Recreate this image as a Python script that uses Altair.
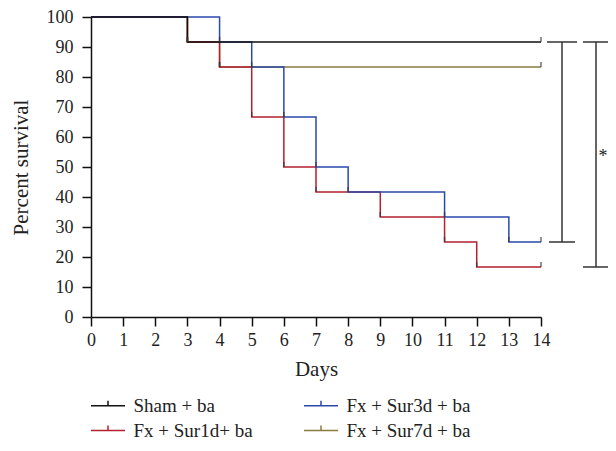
import altair as alt
import pandas as pd

# ---- data ----
series_names = ["Sham + ba", "Fx + Sur1d+ ba", "Fx + Sur3d + ba", "Fx + Sur7d + ba"]
series_colors = ["#111111", "#b3202f", "#2a4aa8", "#8c7b3e"]

sham_days = [0, 3, 14]
sham_surv = [100, 91.67, 91.67]
sur1d_days = [0, 3, 4, 5, 6, 7, 9, 11, 12, 14]
sur1d_surv = [100, 91.67, 83.33, 66.67, 50, 41.67, 33.33, 25, 16.67, 16.67]
sur3d_days = [0, 4, 5, 6, 7, 8, 11, 13, 14]
sur3d_surv = [100, 91.67, 83.33, 66.67, 50, 41.67, 33.33, 25, 25]
sur7d_days = [0, 3, 4, 14]
sur7d_surv = [100, 91.67, 83.33, 83.33]

comp_top = [91.67, 91.67]
comp_bottom = [25, 16.67]
comp_label = ["", "*"]

x_ticks = list(range(0, 15))
y_ticks = list(range(0, 101, 10))

FONT = "Liberation Serif"

rows = []
for name, days, surv in [
    (series_names[0], sham_days, sham_surv),
    (series_names[1], sur1d_days, sur1d_surv),
    (series_names[2], sur3d_days, sur3d_surv),
    (series_names[3], sur7d_days, sur7d_surv),
]:
    for i, (d, s) in enumerate(zip(days, surv)):
        rows.append({"series": name, "day": d, "surv": s, "idx": i})
df = pd.DataFrame(rows)

comps = pd.DataFrame({"top": comp_top, "bottom": comp_bottom, "label": comp_label})

xscale = alt.Scale(domain=[0, 14], nice=False)
yscale = alt.Scale(domain=[0, 100], nice=False)

color = alt.Color(
    "series:N",
    scale=alt.Scale(domain=series_names, range=series_colors),
    legend=alt.Legend(
        title=None,
        orient="none",
        legendX=7.5,
        legendY=379,
        columns=2,
        symbolType="M-2,0H2M0,0V-0.6",
        symbolSize=289,
        symbolStrokeWidth=1.5,
        symbolFillColor="transparent",
        labelFont=FONT,
        labelFontSize=19,
        labelColor="#222222",
        labelOffset=16,
        columnPadding=47,
        rowPadding=5,
    ),
)

x_axis = alt.Axis(
    values=x_ticks,
    tickCount=15,
    title="Days",
    titleY=58,
    titleBaseline="alphabetic",
    format="d",
    labelPadding=5,
    labelOverlap=False,
    labelFlush=False,
)
y_axis = alt.Axis(
    values=y_ticks,
    tickCount=11,
    title="Percent survival",
    titleX=-70,
    titleY=150,
    titleAngle=-90,
    titleBaseline="middle",
    titleAlign="center",
    labelPadding=9,
    labelOverlap=False,
    labelFlush=False,
)


def xv(field):
    return alt.X(field, type="quantitative", scale=xscale, axis=x_axis)


def yv(field):
    return alt.Y(field, type="quantitative", scale=yscale, axis=y_axis)


base = alt.Chart(df).encode(x=xv("day"), y=yv("surv"), color=color)

draw_order = [series_names[3], series_names[1], series_names[2], series_names[0]]
lines = [
    base.transform_filter(alt.datum.series == n).mark_line(
        interpolate="step-after", strokeWidth=1.5
    )
    for n in draw_order
]

ticks = (
    alt.Chart(df)
    .transform_filter(alt.datum.idx > 0)
    .mark_tick(orient="vertical", size=5, thickness=1.5, yOffset=-2.5, color="#333333")
    .encode(x=xv("day"), y=yv("surv"))
)

cb = alt.Chart(comps)
rule_style = dict(color="#333333", strokeWidth=1.5)

br1 = cb.transform_filter(alt.datum.label == "")
br2 = cb.transform_filter(alt.datum.label == "*")

bracket_layers = [
    br1.mark_rule(**rule_style).encode(x=alt.value(471), y=yv("top"), y2="bottom:Q"),
    br1.mark_rule(**rule_style).encode(x=alt.value(456), x2=alt.value(486), y=yv("top")),
    br1.mark_rule(**rule_style).encode(x=alt.value(458), x2=alt.value(484), y=yv("bottom")),
    br2.mark_rule(**rule_style).encode(x=alt.value(505), y=yv("top"), y2="bottom:Q"),
    br2.mark_rule(**rule_style).encode(x=alt.value(492), x2=alt.value(517), y=yv("top")),
    br2.mark_rule(**rule_style).encode(x=alt.value(492), x2=alt.value(517), y=yv("bottom")),
    br2.transform_calculate(mid="(datum.top + datum.bottom) / 2")
    .mark_text(font=FONT, fontSize=18, color="#222222", align="center", baseline="middle", dy=3)
    .encode(x=alt.value(512), y=yv("mid"), text="label:N"),
]

chart = (
    alt.layer(*lines, ticks, *bracket_layers)
    .properties(
        width=450,
        height=300,
        autosize=alt.AutoSizeParams(type="none"),
        padding={"left": 83, "top": 9, "right": 67, "bottom": 125},
    )
    .configure_view(stroke=None)
    .configure_axis(
        grid=False,
        domainColor="#111111",
        domainWidth=1.5,
        tickColor="#111111",
        tickWidth=1.5,
        tickSize=9,
        labelFont=FONT,
        labelFontSize=18,
        labelColor="#222222",
        titleFont=FONT,
        titleFontSize=21,
        titleFontWeight="normal",
        titleColor="#222222",
    )
)

chart.save("out.html", embed_options={"renderer": "svg", "actions": False})
